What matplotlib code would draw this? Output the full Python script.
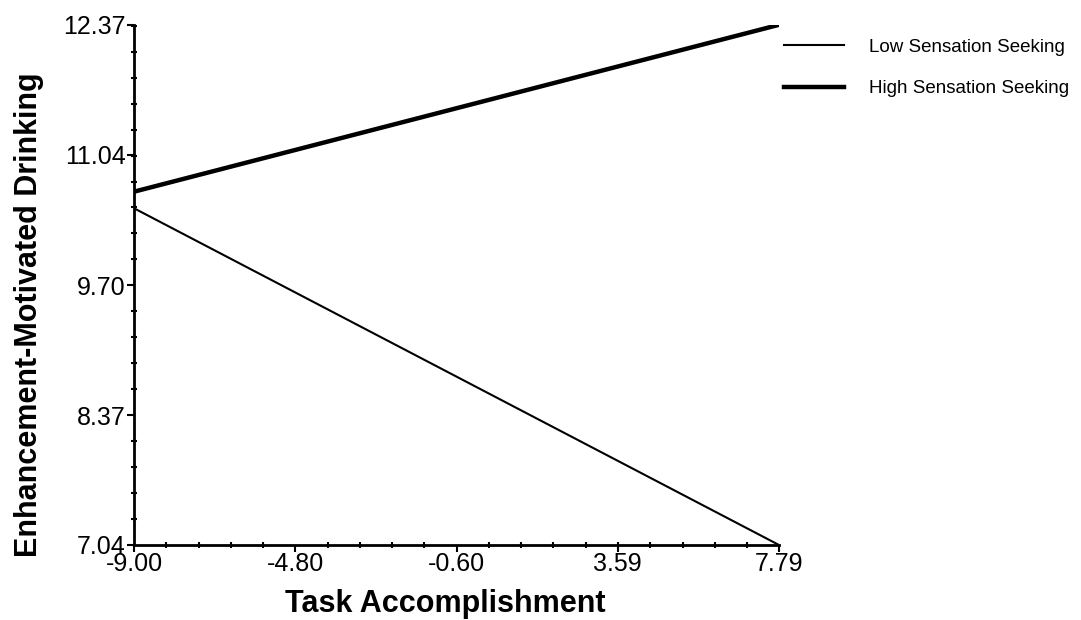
import matplotlib.pyplot as plt
from matplotlib.ticker import AutoMinorLocator
from matplotlib.lines import Line2D

plt.rcParams['font.family'] = ['Liberation Sans', 'DejaVu Sans']

# simple slopes of sensation seeking on task accomplishment
x = [-9.00, 7.79]
low = [10.49, 7.04]
high = [10.66, 12.37]

xticks = [-9.00, -4.80, -0.60, 3.59, 7.79]
yticks = [7.04, 8.37, 9.70, 11.04, 12.37]

fig = plt.figure(figsize=(10.81, 6.2), dpi=100)
ax = fig.add_axes([0.124, 0.121, 0.5966, 0.839])

ax.plot(x, low, color='k', lw=1.5)
ax.plot(x, high, color='k', lw=3.2)

ax.set_xlim(xticks[0], xticks[-1])
ax.set_ylim(yticks[0], yticks[-1])
ax.set_xticks(xticks)
ax.set_yticks(yticks)
ax.set_xticklabels(['%.2f' % v for v in xticks])
ax.set_yticklabels(['%.2f' % v for v in yticks])
ax.xaxis.set_minor_locator(AutoMinorLocator(5))
ax.yaxis.set_minor_locator(AutoMinorLocator(5))

for side in ['top', 'right']:
    ax.spines[side].set_visible(False)
for side in ['left', 'bottom']:
    ax.spines[side].set_linewidth(2)

ax.tick_params(axis='both', which='major', direction='out', length=5, width=1.5,
               labelsize=18, pad=1)
ax.tick_params(axis='x', which='major', pad=0)
ax.tick_params(axis='both', which='minor', direction='inout', length=5, width=1.5)

ax.set_xlabel('Task Accomplishment', fontsize=22, fontweight='bold')
ax.set_ylabel('Enhancement-Motivated Drinking', fontsize=22, fontweight='bold')
ax.xaxis.set_label_coords(0.482, -0.085)
ax.yaxis.set_label_coords(-0.14, 0.442)

handles = [Line2D([], [], color='k', lw=1.5), Line2D([], [], color='k', lw=3.2)]
fig.legend(handles, ['Low Sensation Seeking', 'High Sensation Seeking'],
           loc='upper left', bbox_to_anchor=(0.71, 0.965), frameon=False,
           fontsize=13.5, handlelength=3.2, handletextpad=1.3, labelspacing=1.3)

fig.savefig('out.png')
